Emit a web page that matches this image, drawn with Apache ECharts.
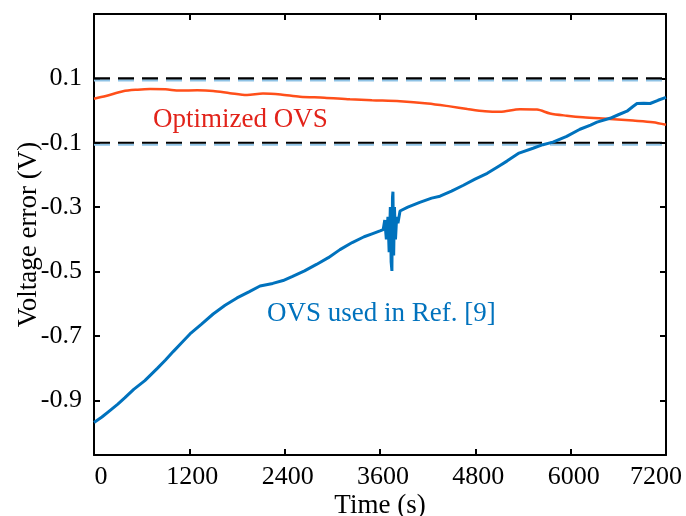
<!DOCTYPE html>
<html>
<head>
<meta charset="utf-8">
<script src="https://cdn.jsdelivr.net/npm/echarts@6/dist/echarts.min.js"></script>
<style>
  html, body { margin: 0; padding: 0; background: #fff; }
  #chart { width: 686px; height: 516px; }
</style>
</head>
<body>
<div id="chart"></div>
<script>
// time (s) and voltage error (V)
var refTime = [0, 100, 200, 300, 390, 500, 640, 800, 900, 1000, 1100, 1208, 1350, 1500, 1650, 1800, 1950, 2090, 2250, 2380,
  2500, 2650, 2800, 2950, 3096, 3250, 3400, 3500, 3600, 3640, 3660, 3680, 3700, 3715, 3730, 3740, 3750, 3757, 3763, 3772,
  3782, 3795, 3810, 3826, 3852, 3950, 4100, 4250, 4355, 4500, 4650, 4796, 4950, 5100, 5198, 5350, 5526, 5650, 5777, 5950,
  6117, 6250, 6331, 6495, 6600, 6709, 6780, 6835, 6920, 7000, 7100, 7200];
var refVolt = [-0.969, -0.952, -0.932, -0.912, -0.892, -0.866, -0.839, -0.800, -0.775, -0.748, -0.722, -0.694, -0.664, -0.632, -0.605, -0.582, -0.563, -0.545, -0.537, -0.528,
  -0.515, -0.498, -0.478, -0.457, -0.432, -0.410, -0.392, -0.383, -0.374, -0.37, -0.34, -0.40, -0.33, -0.44, -0.30, -0.47, -0.498, -0.27, -0.252, -0.45,
  -0.30, -0.40, -0.33, -0.35, -0.312, -0.300, -0.285, -0.272, -0.266, -0.250, -0.232, -0.213, -0.195, -0.172, -0.157, -0.132, -0.117, -0.106, -0.098, -0.080,
  -0.058, -0.045, -0.036, -0.024, -0.013, -0.002, 0.012, 0.022, 0.023, 0.022, 0.032, 0.041];

var optTime = [0, 150, 365, 550, 705, 900, 1082, 1300, 1500, 1712, 1926, 2127, 2350, 2593, 2900, 3222, 3500, 3851, 4200, 4480,
  4700, 4921, 5110, 5362, 5576, 5740, 5950, 6155, 6495, 6785, 7036, 7200];
var optVolt = [0.037, 0.045, 0.060, 0.065, 0.067, 0.066, 0.062, 0.063, 0.061, 0.054, 0.048, 0.053, 0.050, 0.043, 0.040, 0.035, 0.032, 0.029, 0.022, 0.013,
  0.005, -0.002, -0.004, 0.004, 0.003, -0.009, -0.016, -0.021, -0.026, -0.031, -0.036, -0.044];

var bounds = [0.1, -0.1];
var xTicks = [0, 1200, 2400, 3600, 4800, 6000, 7200];
var yTicks = [0.1, -0.1, -0.3, -0.5, -0.7, -0.9];

var font = 'Liberation Serif';

function zip(a, b) {
  return a.map(function (v, i) { return [v, b[i]]; });
}

var chart = echarts.init(document.getElementById('chart'));

var boundSeries = bounds.map(function (b) {
  return {
    type: 'line',
    data: [[xTicks[0], b], [xTicks[xTicks.length - 1], b]],
    symbol: 'none',
    silent: true,
    z: 1,
    lineStyle: {
      color: '#000', width: 2.2, type: [16, 8],
      shadowColor: '#8fc3e6', shadowOffsetY: 2, shadowBlur: 0
    }
  };
});

var axisLine = { show: true, onZero: false, lineStyle: { color: '#000', width: 2 } };

chart.setOption({
  backgroundColor: '#fff',
  animation: false,
  grid: { left: 94, right: 20, top: 14, bottom: 61, outerBoundsMode: 'none', containLabel: false },
  xAxis: [
    {
      type: 'value', min: 0, max: 7200, interval: 1200,
      name: 'Time (s)', nameLocation: 'middle', nameGap: 37, nameMoveOverlap: false,
      nameTextStyle: { fontFamily: font, fontSize: 27, color: '#000' },
      axisLine: axisLine,
      axisTick: { inside: true, length: 6, lineStyle: { color: '#000', width: 2 } },
      axisLabel: {
        fontFamily: font, fontSize: 26, color: '#000', margin: 9,
        formatter: function (v) {
          if (v === xTicks[0]) return '{first|' + v + '}';
          if (v === xTicks[xTicks.length - 1]) return '{last|' + v + '}';
          return '{mid|' + v + '}';
        },
        rich: {
          first: { fontFamily: font, fontSize: 26, color: '#000', padding: [0, 0, 0, 14] },
          mid: { fontFamily: font, fontSize: 26, color: '#000', padding: [0, 0, 0, 6] },
          last: { fontFamily: font, fontSize: 26, color: '#000', padding: [0, 20, 0, 0] }
        }
      },
      splitLine: { show: false }
    },
    {
      type: 'value', min: 0, max: 7200, interval: 1200, position: 'top',
      axisLine: axisLine,
      axisTick: { inside: true, length: 6, lineStyle: { color: '#000', width: 2 } },
      axisLabel: { show: false },
      splitLine: { show: false }
    }
  ],
  yAxis: [
    {
      type: 'value', min: -1.07, max: 0.3,
      name: 'Voltage error (V)', nameLocation: 'middle', nameGap: 52, nameRotate: 90, nameMoveOverlap: false,
      nameTextStyle: { fontFamily: font, fontSize: 27, color: '#000' },
      axisLine: axisLine,
      axisTick: { inside: true, length: 6, customValues: yTicks, lineStyle: { color: '#000', width: 2 } },
      axisLabel: { fontFamily: font, fontSize: 26, color: '#000', margin: 12, customValues: yTicks,
        formatter: function (v) { return v.toFixed(1); } },
      splitLine: { show: false }
    },
    {
      type: 'value', min: -1.07, max: 0.3, position: 'right',
      axisLine: axisLine,
      axisTick: { inside: true, length: 6, customValues: yTicks, lineStyle: { color: '#000', width: 2 } },
      axisLabel: { show: false },
      splitLine: { show: false }
    }
  ],
  series: boundSeries.concat([
    {
      name: 'Optimized OVS',
      type: 'line',
      data: zip(optTime, optVolt),
      symbol: 'none',
      smooth: 0.3,
      z: 3,
      lineStyle: { color: '#ff4f1a', width: 2.5 }
    },
    {
      name: 'OVS used in Ref. [9]',
      type: 'line',
      data: zip(refTime, refVolt),
      symbol: 'none',
      z: 4,
      lineStyle: { color: '#0072bd', width: 3 }
    }
  ]),
  graphic: [
    { type: 'text', left: 153, top: 106,
      style: { text: 'Optimized OVS', fill: '#e2231a', font: '27px "Liberation Serif"' } },
    { type: 'text', left: 267, top: 300,
      style: { text: 'OVS used in Ref. [9]', fill: '#0072bd', font: '27px "Liberation Serif"' } }
  ]
});
</script>
</body>
</html>
